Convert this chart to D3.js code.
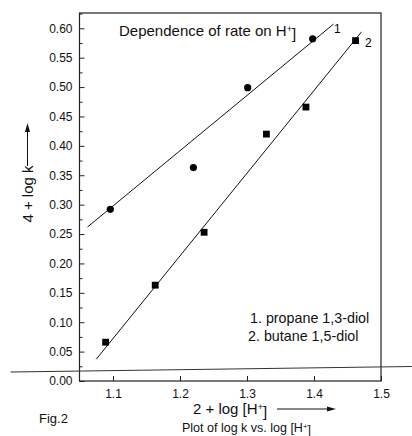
<!DOCTYPE html>
<html>
<head>
<meta charset="utf-8">
<script src="https://cdn.jsdelivr.net/npm/d3@7"></script>
<style>
  body { margin: 0; background: #fff; }
  svg { display: block; font-family: "Liberation Sans", Arial, Helvetica, sans-serif; }
  .axis path { display: none; }
  .axis line { stroke: #222; }
  .axis text { font-size: 12px; fill: #111; font-family: "Liberation Sans", Arial, sans-serif; }
</style>
</head>
<body>
<svg id="chart" width="412" height="436"></svg>
<script>
// series 1: propane 1,3-diol (circles)
const propaneX = [1.096, 1.220, 1.301, 1.398];
const propaneY = [0.292, 0.363, 0.499, 0.582];
// series 2: butane 1,5-diol (squares)
const butaneX = [1.089, 1.163, 1.236, 1.329, 1.388, 1.462];
const butaneY = [0.066, 0.163, 0.253, 0.420, 0.466, 0.579];
// drawn fit lines
const fit1X = [1.062, 1.429];
const fit1Y = [0.262, 0.607];
const fit2X = [1.075, 1.471];
const fit2Y = [0.037, 0.594];
// stray line across the bottom
const strayX = [0.947, 1.546];
const strayY = [0.0153, 0.0247];

const xTicks = [1.1, 1.2, 1.3, 1.4, 1.5];
const yTicks = [0, 0.05, 0.10, 0.15, 0.20, 0.25, 0.30, 0.35, 0.40, 0.45, 0.50, 0.55, 0.60];
const yMinor = [0.025, 0.075, 0.125, 0.175, 0.225, 0.275, 0.325, 0.375, 0.425, 0.475, 0.525, 0.575, 0.625];

const svg = d3.select('#chart');

const x = d3.scaleLinear().domain([1.05, 1.5]).range([79.5, 381]);
const y = d3.scaleLinear().domain([0, 0.626]).range([381, 13]);

const line = d3.line().x(d => x(d[0])).y(d => y(d[1]));
const pairs = (xs, ys) => xs.map((v, i) => [v, ys[i]]);

// frame
svg.append('rect')
  .attr('x', x(1.05)).attr('y', y(0.626))
  .attr('width', x(1.5) - x(1.05)).attr('height', y(0) - y(0.626))
  .attr('fill', 'none').attr('stroke', '#222').attr('stroke-width', 1.2);

// axes
svg.append('g')
  .attr('class', 'axis')
  .attr('transform', `translate(0, ${y(0)})`)
  .call(d3.axisBottom(x).tickValues(xTicks).tickFormat(d3.format('.1f'))
    .tickSizeInner(-5).tickSizeOuter(0).tickPadding(8));

svg.append('g')
  .attr('class', 'axis')
  .attr('transform', `translate(${x(1.05)}, 0)`)
  .call(d3.axisLeft(y).tickValues(yTicks).tickFormat(d3.format('.2f'))
    .tickSizeInner(-5).tickSizeOuter(0).tickPadding(7));

svg.append('g')
  .attr('class', 'axis')
  .attr('transform', `translate(${x(1.05)}, 0)`)
  .call(d3.axisLeft(y).tickValues(yMinor).tickFormat('')
    .tickSizeInner(-3).tickSizeOuter(0));

// stray line
svg.append('path')
  .datum(pairs(strayX, strayY))
  .attr('d', line)
  .attr('fill', 'none').attr('stroke', '#333').attr('stroke-width', 1.2);

// fit lines
[[fit1X, fit1Y], [fit2X, fit2Y]].forEach(([xs, ys]) => {
  svg.append('path')
    .datum(pairs(xs, ys))
    .attr('d', line)
    .attr('fill', 'none').attr('stroke', '#111').attr('stroke-width', 1);
});

// points
svg.selectAll('.dot')
  .data(pairs(propaneX, propaneY))
  .join('circle')
  .attr('class', 'dot')
  .attr('cx', d => x(d[0])).attr('cy', d => y(d[1]))
  .attr('r', 3.6).attr('fill', '#000');

svg.selectAll('.sq')
  .data(pairs(butaneX, butaneY))
  .join('rect')
  .attr('class', 'sq')
  .attr('x', d => x(d[0]) - 3.4).attr('y', d => y(d[1]) - 3.4)
  .attr('width', 6.8).attr('height', 6.8).attr('fill', '#000');

// line labels
svg.append('text').attr('x', 334).attr('y', 33).attr('font-size', 12).text('1');
svg.append('text').attr('x', 365).attr('y', 47).attr('font-size', 12).text('2');

// helper for text with superscript +
function hText(sel, before, after) {
  sel.append('tspan').text(before);
  sel.append('tspan').attr('dy', '-0.45em').attr('font-size', '0.62em').text('+');
  sel.append('tspan').attr('dy', '0.45em').text(after);
}

hText(svg.append('text').attr('x', 119).attr('y', 36).attr('font-size', 15).attr('fill', '#111'),
  'Dependence of rate on H', ']');

svg.append('text').attr('x', 250).attr('y', 323).attr('font-size', 14.3).attr('fill', '#111')
  .text('1. propane 1,3-diol');
svg.append('text').attr('x', 248).attr('y', 341).attr('font-size', 14.3).attr('fill', '#111')
  .text('2. butane 1,5-diol');

// x label with arrow
hText(svg.append('text').attr('x', 193).attr('y', 414).attr('font-size', 15).attr('fill', '#111'),
  '2 + log [H', ']');
svg.append('line').attr('x1', 277).attr('y1', 409).attr('x2', 329).attr('y2', 409)
  .attr('stroke', '#111').attr('stroke-width', 1);
svg.append('path').attr('d', 'M336,409 L327,406.5 L327,411.5 Z').attr('fill', '#111');

// y label with arrow
svg.append('text')
  .attr('transform', 'translate(33, 194) rotate(-90)')
  .attr('text-anchor', 'middle').attr('font-size', 15).attr('fill', '#111')
  .text('4 + log k');
svg.append('line').attr('x1', 27.5).attr('y1', 166).attr('x2', 27.5).attr('y2', 131)
  .attr('stroke', '#111').attr('stroke-width', 1);
svg.append('path').attr('d', 'M27.5,123 L25,132 L30,132 Z').attr('fill', '#111');

// captions
svg.append('text').attr('x', 39).attr('y', 423).attr('font-size', 13).attr('fill', '#111').text('Fig.2');
hText(svg.append('text').attr('x', 182).attr('y', 432).attr('font-size', 12.5).attr('fill', '#111'),
  'Plot of log k vs. log [H', ']');
</script>
</body>
</html>
